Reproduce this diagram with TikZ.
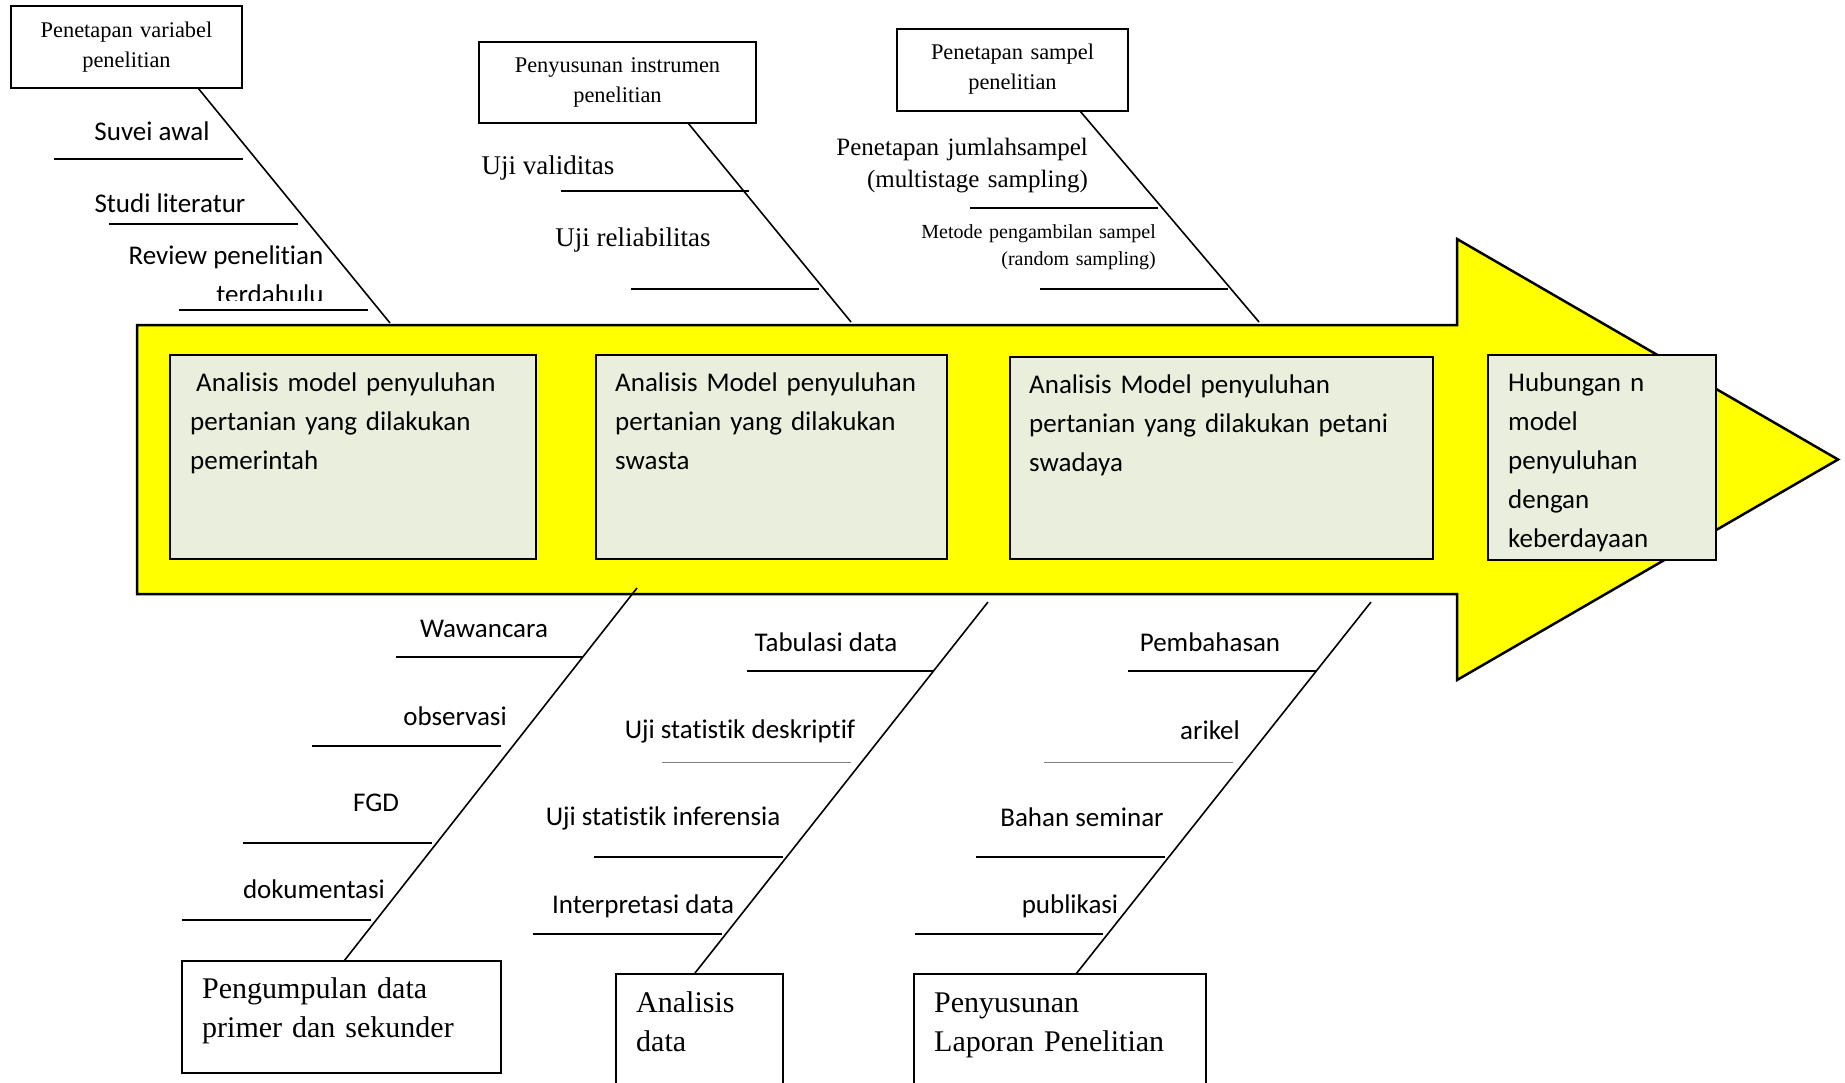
\documentclass[tikz,border=0pt]{standalone}
\usepackage{fontspec}
\setmainfont{Liberation Serif}
\newfontfamily\calibfont[Ligatures=NoCommon,Contextuals=NoAlternate]{Carlito}
\definecolor{armyel}{HTML}{FFFF00}
\definecolor{boxfill}{HTML}{E9EFDC}
\begin{document}
\begin{tikzpicture}[x=1pt,y=-1pt,
  bone/.style={line width=1.6pt},
  rib/.style={line width=2pt},
  grayrib/.style={line width=1pt, draw=gray},
  outbox/.style={draw, line width=2.3pt, inner sep=0pt, fill=white},
  inbox/.style={draw, line width=2.3pt, inner sep=0pt, fill=boxfill},
  lab/.style={inner sep=0pt, anchor=base, font=\calibfont\fontsize{27}{39}\selectfont},
  serlab/.style={inner sep=0pt, anchor=base, font=\fontsize{27}{32}\selectfont},
  sertop/.style={inner sep=0pt, anchor=base, align=center, text width=220pt, font=\fontsize{22.4}{30}\selectfont},
  serbot/.style={inner sep=0pt, anchor=base west, align=left, text width=280pt, font=\fontsize{30}{39}\selectfont},
  intext/.style={inner sep=0pt, anchor=base west, align=left, text width=400pt, font=\calibfont\fontsize{27}{39}\selectfont}
]
\useasboundingbox (0,0) rectangle (1845,1082);
\fill[white] (0,0) rectangle (1845,1082);
\clip (0,0) rectangle (1845,1082);

% main arrow body
\draw[line width=2.5pt, fill=armyel, line join=miter]
  (137,325) -- (1457,325) -- (1457,239) -- (1838,459.5) -- (1457,680) -- (1457,594) -- (137,594) -- cycle;

% inner boxes
\node[inbox, minimum width=366pt, minimum height=204pt] (m1) at (353,457) {};
\node[inbox, minimum width=351pt, minimum height=204pt] (m2) at (771.5,457) {};
\node[inbox, minimum width=423pt, minimum height=202pt] (m3) at (1221.5,458) {};
\node[inbox, minimum width=228pt, minimum height=205pt] (m4) at (1602,457.5) {};
\node[intext] (m1t) at (190,391) {\hspace*{6pt}Analisis model penyuluhan\\pertanian yang dilakukan\\pemerintah};
\node[intext] (m2t) at (615,391) {Analisis Model penyuluhan\\pertanian yang dilakukan\\swasta};
\node[intext] (m3t) at (1029,393) {Analisis Model penyuluhan\\pertanian yang dilakukan petani\\swadaya};
\node[intext, text width=200pt] (m4t) at (1508,391) {Hubungan n\\model\\penyuluhan\\dengan\\keberdayaan};

% top boxes
\node[outbox, minimum width=231pt, minimum height=82pt] (vbox) at (126.5,47) {};
\node[sertop] (vboxt) at (126.5,37) {Penetapan variabel\\penelitian};
\node[outbox, minimum width=277pt, minimum height=81pt] (ibox) at (617.5,82.5) {};
\node[sertop, text width=260pt] (iboxt) at (617.5,72) {Penyusunan instrumen\\penelitian};
\node[outbox, minimum width=231pt, minimum height=82pt] (sbox) at (1012.5,70) {};
\node[sertop] (sboxt) at (1012.5,59) {Penetapan sampel\\penelitian};

% bottom boxes
\node[outbox, minimum width=319pt, minimum height=112pt] (pbox) at (341.5,1017) {};
\node[serbot] (pboxt) at (202,998) {Pengumpulan data\\primer dan sekunder};
\node[outbox, minimum width=167pt, minimum height=140pt] (abox) at (699.5,1044) {};
\node[serbot] (aboxt) at (636,1012) {Analisis\\data};
\node[outbox, minimum width=292pt, minimum height=140pt] (lbox) at (1060,1044) {};
\node[serbot] (lboxt) at (934,1012) {Penyusunan\\Laporan Penelitian};

% bone end coordinates
\coordinate (aTop) at (198,88);   \coordinate (aEnd) at (390,323);
\coordinate (bTop) at (688,123);  \coordinate (bEnd) at (851,322);
\coordinate (cTop) at (1080,111); \coordinate (cEnd) at (1259,322);
\coordinate (dBot) at (344,961);  \coordinate (dEnd) at (637,588);
\coordinate (eBot) at (695,973);  \coordinate (eEnd) at (988,602);
\coordinate (fBot) at (1076,974); \coordinate (fEnd) at (1371,602);

\draw[bone] (aTop) -- (aEnd);
\draw[bone] (bTop) -- (bEnd);
\draw[bone] (cTop) -- (cEnd);
\draw[bone] (dBot) -- (dEnd);
\draw[bone] (eBot) -- (eEnd);
\draw[bone] (fBot) -- (fEnd);

% top ribs
\draw[rib] (54,159) -- (243,159);
\draw[rib] (109,224) -- (298,224);
\draw[rib] (179,310) -- (368,310);
\draw[rib] (561,191) -- (749,191);
\draw[rib] (631,289) -- (819,289);
\draw[rib] (970,208) -- (1158,208);
\draw[rib] (1040,289) -- (1228,289);

% bottom ribs
\draw[rib] (396,657) -- (583,657);
\draw[rib] (312,746) -- (501,746);
\draw[rib] (243,843) -- (432,843);
\draw[rib] (182,920) -- (371,920);
\draw[rib] (747,671) -- (933,671);
\draw[grayrib] (662,762) -- (851,762);
\draw[rib] (594,857) -- (783,857);
\draw[rib] (533,934) -- (722,934);
\draw[rib] (1128,671) -- (1317,671);
\draw[grayrib] (1044,762) -- (1233,762);
\draw[rib] (976,857) -- (1165,857);
\draw[rib] (915,934) -- (1103,934);

% top labels
\node[lab] (sv) at (152,140) {Suvei awal};
\node[lab] (sl) at (170,212) {Studi literatur};
\node[lab] (rp) at (226,264) {Review penelitian};
\begin{scope}
\clip (100,270) rectangle (400,300);
\node[lab] (td) at (270,303) {terdahulu};
\end{scope}
\node[serlab] (uv) at (548,174) {Uji validitas};
\node[serlab] (ur) at (633,246) {Uji reliabilitas};
\node[inner sep=0pt, anchor=base east, align=right, text width=280pt, font=\fontsize{25}{32}\selectfont] (pj) at (1088,155) {Penetapan jumlahsampel\\(multistage sampling)};
\node[inner sep=0pt, anchor=base east, align=right, text width=260pt, font=\fontsize{20}{27}\selectfont] (mp) at (1156,238) {Metode pengambilan sampel\\(random sampling)};

% bottom labels
\node[lab] (ww) at (484,637) {Wawancara};
\node[lab] (ob) at (455,725) {observasi};
\node[lab] (fg) at (376,811) {FGD};
\node[lab] (dk) at (314,898) {dokumentasi};
\node[lab] (tb) at (826,651) {Tabulasi data};
\node[lab] (ud) at (740,738) {Uji statistik deskriptif};
\node[lab] (ui) at (663,825) {Uji statistik inferensia};
\node[lab] (ip) at (643,913) {Interpretasi data};
\node[lab] (pb) at (1210,651) {Pembahasan};
\node[lab] (ar) at (1210,739) {arikel};
\node[lab] (bs) at (1082,826) {Bahan seminar};
\node[lab] (pu) at (1070,913) {publikasi};
\end{tikzpicture}
\end{document}
